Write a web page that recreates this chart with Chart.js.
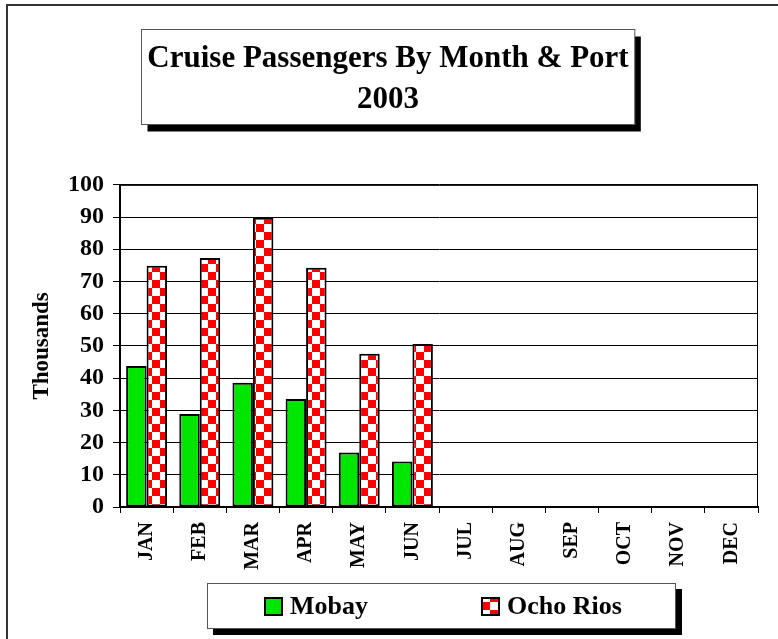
<!DOCTYPE html>
<html>
<head>
<meta charset="utf-8">
<script src="https://cdn.jsdelivr.net/npm/chart.js@4.4.0/dist/chart.umd.min.js"></script>
<style>
  html, body { margin: 0; padding: 0; background: #fff; overflow: hidden; }
  #wrap { position: relative; width: 778px; height: 639px; }
  #frame { position: absolute; left: 6px; top: 4px; width: 900px; height: 900px;
           border-left: 2px solid #333; border-top: 2px solid #333; }
  #chart { position: absolute; left: 0; top: 0; }
  #legend { position: absolute; left: 207px; top: 583px; width: 467px; height: 44px;
            border: 1px solid #555; background: #fff; box-shadow: 6px 6px 0 #000;
            font: bold 26px 'Liberation Serif', 'Times New Roman', serif; color: #000; }
  .item { position: absolute; top: 0; height: 44px; display: flex; align-items: center; }
  .sw { width: 15px; height: 15px; border: 2px solid #000; margin-right: 7px; }
</style>
</head>
<body>
<div id="wrap">
  <div id="frame"></div>
  <canvas id="chart" width="778" height="639"></canvas>
  <div id="legend"></div>
</div>
<script>
// ---- data ----
const months = ['JAN', 'FEB', 'MAR', 'APR', 'MAY', 'JUN', 'JUL', 'AUG', 'SEP', 'OCT', 'NOV', 'DEC'];
const mobay = [43.8, 28.9, 38.6, 33.5, 16.9, 14.1, null, null, null, null, null, null];
const ochoRios = [74.9, 77.3, 89.8, 74.3, 47.6, 50.6, null, null, null, null, null, null];
const titleLines = ['Cruise Passengers By Month & Port', '2003'];
const yMin = 0, yMax = 100, yStep = 10;

const serif = "'Liberation Serif', 'Times New Roman', serif";

// checker pattern for Ocho Rios
const sq = 8;
const patCanvas = document.createElement('canvas');
patCanvas.width = patCanvas.height = sq * 2;
const pg = patCanvas.getContext('2d');
pg.fillStyle = '#fff';
pg.fillRect(0, 0, sq * 2, sq * 2);
pg.fillStyle = '#ff0000';
pg.fillRect(0, 0, sq, sq);
pg.fillRect(sq, sq, sq, sq);
const checker = pg.createPattern(patCanvas, 'repeat');

// title centred on the whole canvas, box + shadow behind it, plot frame
const boxes = {
  id: 'boxes',
  afterLayout(chart) {
    chart.titleBlock.left = 0;
    chart.titleBlock.right = chart.width - 2;
  },
  beforeDraw(chart) {
    const ctx = chart.ctx;
    const tb = chart.titleBlock;
    ctx.save();
    ctx.font = 'bold 31px ' + serif;
    const w = Math.max(...titleLines.map(t => ctx.measureText(t).width)) + 12;
    const cx = (tb.left + tb.right) / 2;
    const x = Math.round(cx - w / 2) + 0.5, y = tb.top + 29.5, h = 95;
    ctx.fillStyle = '#000';
    ctx.fillRect(x + 6, y + 7, w, h);
    ctx.fillStyle = '#fff';
    ctx.fillRect(x, y, w, h);
    ctx.strokeStyle = '#555';
    ctx.lineWidth = 1;
    ctx.strokeRect(x, y, w, h);
    ctx.restore();
  },
  afterDraw(chart) {
    const a = chart.chartArea;
    const ctx = chart.ctx;
    ctx.save();
    ctx.strokeStyle = '#000';
    ctx.lineWidth = 1;
    ctx.strokeRect(a.left + 0.5, a.top + 0.5, a.right - a.left - 1, a.bottom - a.top);
    ctx.restore();
  }
};

const chart = new Chart(document.getElementById('chart'), {
  type: 'bar',
  data: {
    labels: months,
    datasets: [{
      label: 'Mobay',
      data: mobay,
      backgroundColor: '#00e600',
      borderColor: '#000',
      borderWidth: 2,
      borderSkipped: false
    }, {
      label: 'Ocho Rios',
      data: ochoRios,
      backgroundColor: checker,
      borderColor: '#000',
      borderWidth: 2,
      borderSkipped: false
    }]
  },
  options: {
    responsive: false,
    animation: false,
    datasets: { bar: { barPercentage: 1, categoryPercentage: 0.77 } },
    layout: { padding: { left: 0, right: 20, top: 0, bottom: 62 } },
    plugins: {
      legend: { display: false },
      tooltip: { enabled: false },
      title: {
        display: true,
        text: titleLines,
        color: '#000',
        font: { family: serif, size: 31, weight: 'bold', lineHeight: 1.32 },
        padding: { top: 39, bottom: 64 }
      }
    },
    scales: {
      x: {
        grid: { drawOnChartArea: false, color: '#000', tickLength: 6 },
        border: { color: '#000', width: 2 },
        ticks: {
          color: '#000', autoSkip: false, minRotation: 90, maxRotation: 90, padding: 9,
          font: { family: serif, size: 20, weight: 'bold' }
        },
        afterFit(s) { s.height = 70; }
      },
      y: {
        min: yMin,
        max: yMax,
        grid: { color: '#000', tickLength: 7 },
        border: { color: '#000', width: 2 },
        ticks: {
          stepSize: yStep, color: '#000', padding: 9,
          font: { family: serif, size: 24, weight: 'bold' }
        },
        title: {
          display: true, text: 'Thousands', color: '#000',
          font: { family: serif, size: 23, weight: 'bold' },
          padding: { top: 28, bottom: 0 }
        },
        afterFit(s) { s.width = 120; }
      }
    }
  },
  plugins: [boxes]
});

// html legend built from the datasets
const legend = document.getElementById('legend');
const legendLeft = [56, 273];
chart.data.datasets.forEach((ds, i) => {
  const item = document.createElement('div');
  item.className = 'item';
  item.style.left = legendLeft[i] + 'px';
  const sw = document.createElement('span');
  sw.className = 'sw';
  if (typeof ds.backgroundColor === 'string') {
    sw.style.background = ds.backgroundColor;
  } else {
    sw.style.backgroundImage = 'url(' + patCanvas.toDataURL() + ')';
    sw.style.backgroundPosition = '-1px 3px';
  }
  const tx = document.createElement('span');
  tx.textContent = ds.label;
  item.appendChild(sw);
  item.appendChild(tx);
  legend.appendChild(item);
});
</script>
</body>
</html>
